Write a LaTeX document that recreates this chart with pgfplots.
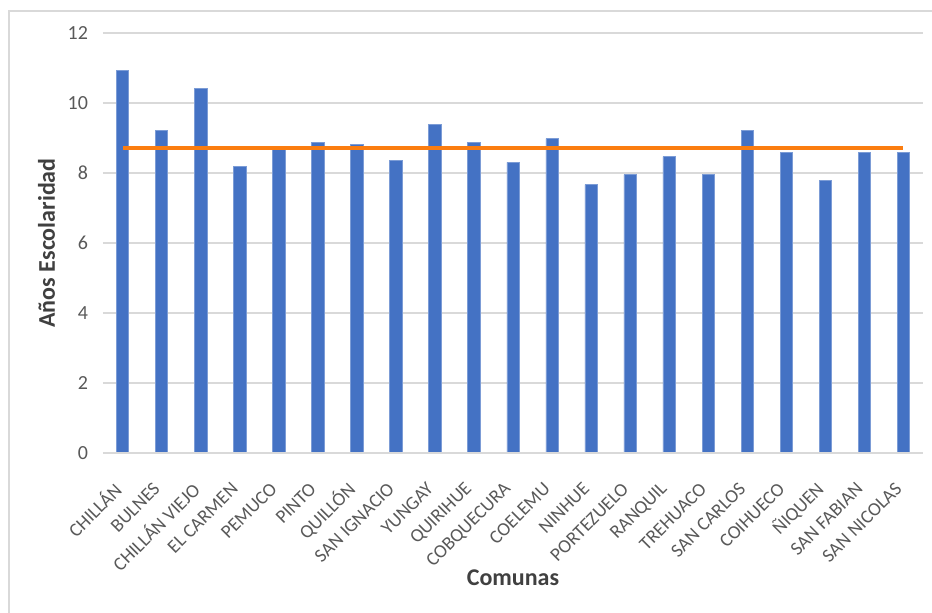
\documentclass[border=0pt]{standalone}
\usepackage{pgfplots}
\pgfplotsset{compat=1.18}
\usepackage{fontspec}
\setmainfont{Carlito}
\definecolor{barblue}{HTML}{4472C4}
\definecolor{avgorange}{HTML}{FB7D10}
\definecolor{gridgray}{HTML}{D9D9D9}
\definecolor{labgray}{HTML}{595959}
\definecolor{titlegray}{HTML}{404040}
\begin{document}
\begin{tikzpicture}
% page: 466pt x 306.5pt, origin at the top left corner
\path[use as bounding box] (0pt,0pt) rectangle (466pt,-306.5pt);
\draw[gridgray, line width=1.2pt] (4.5pt,-306.5pt) -- (4.5pt,-5.5pt) -- (466pt,-5.5pt);
\begin{axis}[
  at={(51.5pt,-16.5pt)}, anchor=north west,
  scale only axis,
  width=410pt, height=210pt,
  xmin=-0.5, xmax=20.5,
  ymin=0, ymax=12,
  ytick={0,2,...,12},
  xtick={0,...,20},
  xticklabels={CHILLÁN, BULNES, CHILLÁN VIEJO, EL CARMEN, PEMUCO, PINTO, QUILLÓN, SAN IGNACIO, YUNGAY, QUIRIHUE, COBQUECURA, COELEMU, NINHUE, PORTEZUELO, RANQUIL, TREHUACO, SAN CARLOS, COIHUECO, ÑIQUEN, SAN FABIAN, SAN NICOLAS},
  axis line style={draw=none},
  axis x line*=bottom,
  axis y line*=left,
  major tick length=0pt,
  ymajorgrids,
  grid style={gridgray, line width=0.6pt},
  tick label style={font=\fontsize{10}{11}\selectfont, text=labgray},
  /pgf/number format/assume math mode=true,
  yticklabel style={xshift=-4pt},
  xticklabel style={rotate=45, anchor=east, font=\fontsize{9.5}{11}\selectfont},
  xticklabel shift=14pt,
  xlabel={\textbf{Comunas}},
  xlabel style={at={(axis description cs:0.5,-0.2976)}, anchor=center},
  ylabel={\textbf{Años Escolaridad}},
  ylabel style={yshift=-0.5pt},
  label style={font=\fontsize{12}{14}\selectfont, text=titlegray},
  clip=false,
]
\addplot[ybar, bar width=6.2pt, fill=barblue, draw=barblue!70!white, line width=0.3pt]
  coordinates {
  (0,10.93) (1,9.22) (2,10.41) (3,8.19) (4,8.68) (5,8.87) (6,8.81)
  (7,8.35) (8,9.38) (9,8.87) (10,8.30) (11,8.98) (12,7.67) (13,7.95)
  (14,8.47) (15,7.95) (16,9.21) (17,8.58) (18,7.78) (19,8.58) (20,8.58)
  };
\addplot[avgorange, line width=1.9pt, no marks]
  coordinates {(0,8.71) (20,8.71)};
\draw[gridgray, line width=0.6pt] (axis cs:-0.5,0) -- (axis cs:20.5,0);
\end{axis}
\end{tikzpicture}
\end{document}
